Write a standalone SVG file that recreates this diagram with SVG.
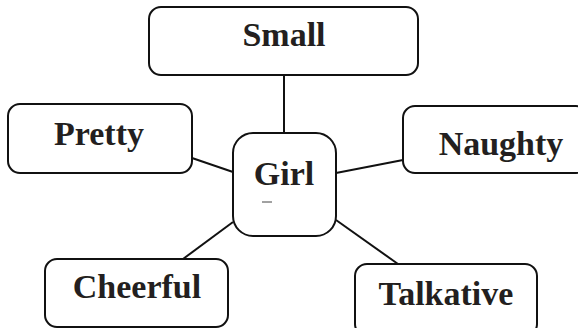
<svg xmlns="http://www.w3.org/2000/svg" width="578" height="328" viewBox="0 0 578 328">
<style>
.box{fill:#fff;stroke:#111;stroke-width:2}
.lbl{font-family:"Liberation Serif","Times New Roman",serif;font-weight:bold;font-size:34px;fill:#231f20;text-anchor:middle}
.con{stroke:#111;stroke-width:2;fill:none}
</style>
<rect width="578" height="328" fill="#fff"/>
<g id="connectors">
<line class="con" x1="284" y1="75" x2="284" y2="133"/>
<line class="con" x1="192" y1="158" x2="233" y2="172"/>
<line class="con" x1="336" y1="173" x2="403" y2="160"/>
<line class="con" x1="183" y1="259" x2="233" y2="222"/>
<line class="con" x1="336" y1="220" x2="398" y2="264"/>
</g>
<g id="small">
<rect class="box" x="149" y="7" width="269" height="68" rx="12"/>
<text class="lbl" x="284" y="46">Small</text>
</g>
<g id="pretty">
<rect class="box" x="8" y="104" width="184" height="69" rx="12"/>
<text class="lbl" x="99" y="145">Pretty</text>
</g>
<g id="naughty">
<rect class="box" x="403" y="106" width="185" height="67" rx="12"/>
<text class="lbl" x="501" y="155">Naughty</text>
</g>
<g id="girl">
<rect class="box" x="233" y="133" width="103" height="103" rx="20"/>
<text class="lbl" x="284" y="185">Girl</text>
<line x1="262" y1="202" x2="272" y2="202" stroke="#444" stroke-width="1"/>
</g>
<g id="cheerful">
<rect class="box" x="45" y="259" width="183" height="68" rx="12"/>
<text class="lbl" x="137" y="298">Cheerful</text>
</g>
<g id="talkative">
<rect class="box" x="355" y="264" width="182" height="72" rx="12"/>
<text class="lbl" x="446" y="305">Talkative</text>
</g>
</svg>
